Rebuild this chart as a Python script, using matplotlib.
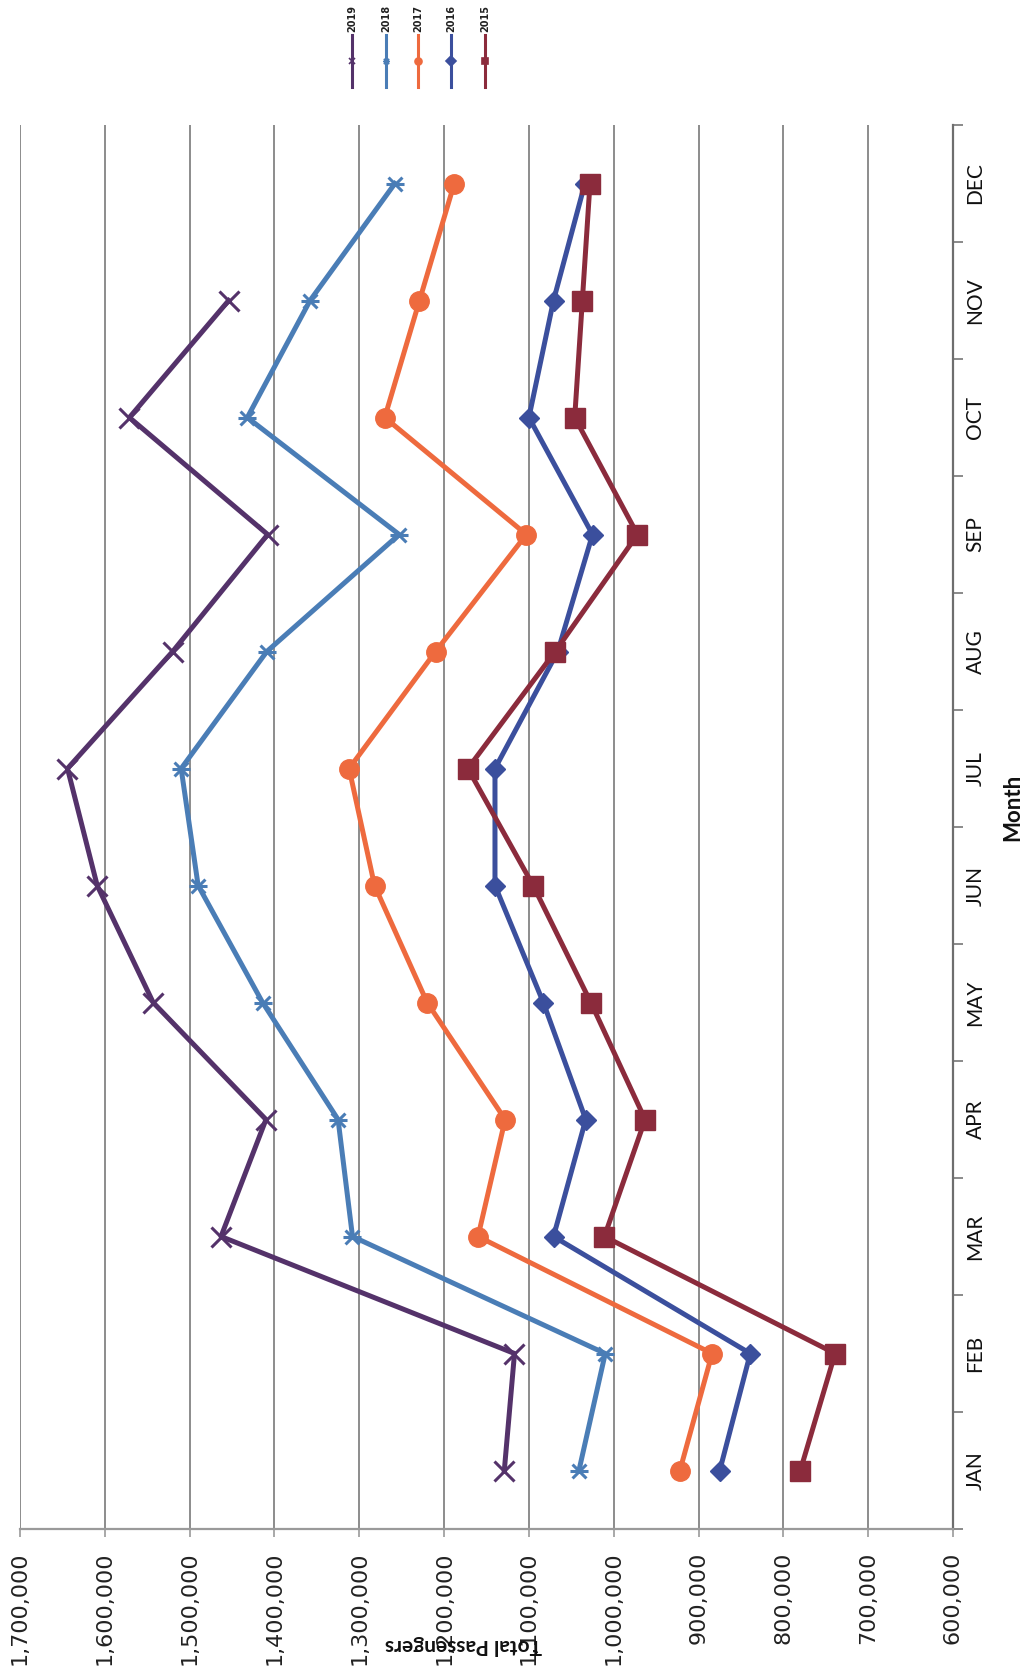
import matplotlib
matplotlib.use("Agg")
import matplotlib.pyplot as plt
from matplotlib.lines import Line2D
from matplotlib.path import Path
from matplotlib.ticker import FuncFormatter

# monthly passenger counts, one list per year
months = ["JAN", "FEB", "MAR", "APR", "MAY", "JUN",
          "JUL", "AUG", "SEP", "OCT", "NOV", "DEC"]
pax_2019 = [1129000, 1117000, 1463000, 1410000, 1543000, 1609000,
            1644000, 1520000, 1408000, 1571000, 1454000]
pax_2018 = [1041000, 1010000, 1308000, 1325000, 1414000, 1490000,
            1510000, 1409000, 1253000, 1432000, 1358000, 1258000]
pax_2017 = [922000, 884000, 1160000, 1128000, 1220000, 1282000,
            1312000, 1210000, 1103000, 1270000, 1229000, 1188000]
pax_2016 = [875000, 839000, 1071000, 1033000, 1083000, 1140000,
            1140000, 1066000, 1025000, 1100000, 1071000, 1034000]
pax_2015 = [780000, 739000, 1011000, 963000, 1027000, 1095000,
            1172000, 1069000, 972000, 1046000, 1037000, 1028000]

W, H = 1029, 1671


def fx(x):
    return x / W


def fy(y):
    return 1 - y / H


# excel style "star": an x with a bar through it
star = Path([(-1, -1), (1, 1), (-1, 1), (1, -1), (-1.3, 0), (1.3, 0)],
            [Path.MOVETO, Path.LINETO] * 3)

series = [
    ("2019", pax_2019, "#54326a", "x", 14, 2.2),
    ("2018", pax_2018, "#4a7db6", star, 13, 2.2),
    ("2017", pax_2017, "#ee6a3e", "o", 14, 1),
    ("2016", pax_2016, "#3b4f9d", "D", 10, 1),
    ("2015", pax_2015, "#8b2b3c", "s", 14, 1),
]

fig = plt.figure(figsize=(W / 100, H / 100), dpi=100)
ax = fig.add_axes([fx(20), fy(1529), fx(953) - fx(20), fy(125) - fy(1529)])

for name, vals, col, mk, ms, mew in series:
    pos = list(range(1, len(vals) + 1))
    ax.plot(vals, pos, color=col, lw=3.6, marker=mk, ms=ms, mew=mew,
            mec=col, mfc=col, zorder=3)

# value axis runs right to left
ax.set_xlim(1700000, 600000)
ax.set_xticks(range(600000, 1700001, 100000))
ax.xaxis.set_major_formatter(FuncFormatter(lambda v, p: f"{int(v):,}"))
ax.tick_params(axis="x", length=6, width=1.2, color="#999999", pad=10,
               labelsize=16, labelcolor="#222222", labelrotation=90)
ax.grid(axis="x", color="#8c8c8c", lw=1.4)
ax.set_axisbelow(True)

# months along the right edge, ticks between categories
ax.set_ylim(0.5, 12.5)
ax.yaxis.tick_right()
ax.set_yticks(range(1, 13))
ax.set_yticklabels(months, rotation=90, va="center",
                   fontfamily="Lato", fontsize=15, color="#111111")
ax.set_yticks([i + 0.5 for i in range(0, 13)], minor=True)
ax.tick_params(axis="y", which="major", length=0, pad=9)
ax.tick_params(axis="y", which="minor", length=7, width=1.2,
               color="#777777", direction="out")

for s in ("top", "left"):
    ax.spines[s].set_visible(False)
ax.spines["right"].set_color("#6e6e6e")
ax.spines["right"].set_linewidth(1.6)
ax.spines["bottom"].set_color("#9a9a9a")
ax.spines["bottom"].set_linewidth(1.6)

fig.text(fx(1013), fy(807), "Month", rotation=90, ha="center", va="center",
         fontfamily="Lato", fontweight="bold", fontsize=16, color="#111111")
fig.text(fx(463), fy(1645), "Total Passengers", rotation=180,
         ha="center", va="center", fontfamily="Lato", fontweight="bold",
         fontsize=15, color="#111111")

# small legend across the top
leg_x = [352, 386, 418, 451, 485]
for (name, vals, col, mk, ms, mew), x in zip(series, leg_x):
    fig.text(fx(x), fy(18), name, rotation=90, ha="center", va="center",
             fontsize=7, fontweight="bold", color="#222222")
    fig.add_artist(Line2D([fx(x), fx(x)], [fy(35), fy(87)],
                          transform=fig.transFigure, color=col, lw=2.2))
    fig.add_artist(Line2D([fx(x)], [fy(61)], transform=fig.transFigure,
                          color=col, marker=mk, ms=5, mew=1.2,
                          mec=col, mfc=col))

fig.savefig("out.png", dpi=100, facecolor="white")
